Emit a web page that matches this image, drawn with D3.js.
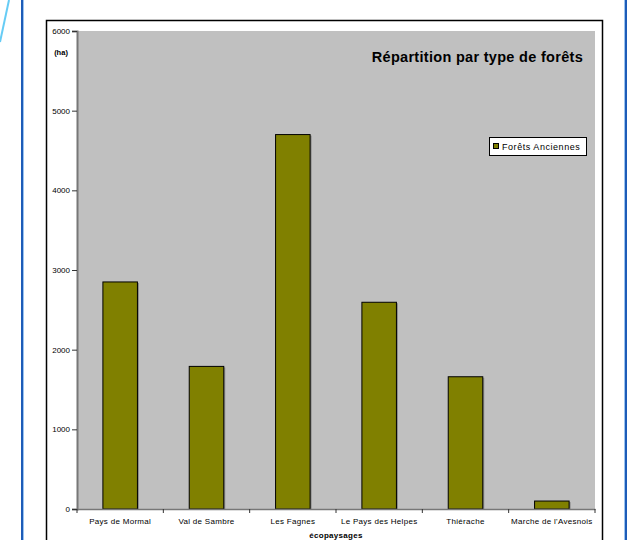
<!DOCTYPE html>
<html>
<head>
<meta charset="utf-8">
<script src="https://cdn.jsdelivr.net/npm/d3@7"></script>
<style>
html,body{margin:0;padding:0;background:#fff;}
svg{display:block;font-family:"Liberation Sans",Arial,sans-serif;}
</style>
</head>
<body>
<svg id="chart" width="636" height="540"></svg>
<script>
const categories = ["Pays de Mormal","Val de Sambre","Les Fagnes","Le Pays des Helpes","Thiérache","Marche de l'Avesnois"];
const values = [2850, 1790, 4700, 2595, 1660, 100];
const yTicks = [0,1000,2000,3000,4000,5000,6000];
const seriesName = "Forêts Anciennes";
const title = "Répartition par type de forêts";
const yUnit = "(ha)";
const xTitle = "écopaysages";

const svg = d3.select("#chart");
const W = 636, H = 540;
const plot = {left:77, right:595, top:31, bottom:509};
const FONT = "'Liberation Sans', Arial, sans-serif";

// decorative page lines
svg.append("line").attr("x1",9).attr("y1",0).attr("x2",0).attr("y2",42)
  .attr("stroke","#66ccf5").attr("stroke-width",2);
svg.append("line").attr("x1",22).attr("y1",0).attr("x2",22).attr("y2",H)
  .attr("stroke","#1d5cb8").attr("stroke-width",2);
svg.append("line").attr("x1",23.5).attr("y1",0).attr("x2",23.5).attr("y2",H)
  .attr("stroke","#9cc4f0").attr("stroke-width",1);
svg.append("line").attr("x1",626).attr("y1",0).attr("x2",626).attr("y2",H)
  .attr("stroke","#1d5cb8").attr("stroke-width",2);
svg.append("line").attr("x1",624.5).attr("y1",0).attr("x2",624.5).attr("y2",H)
  .attr("stroke","#9cc4f0").attr("stroke-width",1);

// chart frame
svg.append("rect").attr("x",46.5).attr("y",20.5).attr("width",556).attr("height",540)
  .attr("fill","#fff").attr("stroke","#000").attr("stroke-width",1.5);

const x = d3.scaleBand().domain(categories).range([plot.left, plot.right]).paddingInner(0.6).paddingOuter(0.3);
const xb = d3.scaleBand().domain(categories).range([plot.left, plot.right]);
const y = d3.scaleLinear().domain([0,6000]).range([plot.bottom, plot.top]);

// plot area
svg.append("rect").attr("x",plot.left).attr("y",plot.top)
  .attr("width",plot.right-plot.left).attr("height",plot.bottom-plot.top)
  .attr("fill","#c0c0c0");

// bar shadows
svg.append("g").selectAll("rect").data(values).join("rect")
  .attr("x",(d,i)=>x(categories[i])+1.5)
  .attr("y",d=>y(d)+1)
  .attr("width",x.bandwidth())
  .attr("height",d=>plot.bottom-y(d)-1)
  .attr("fill","#8a8a8a");
// bars
svg.append("g").selectAll("rect").data(values).join("rect")
  .attr("x",(d,i)=>x(categories[i]))
  .attr("y",d=>y(d))
  .attr("width",x.bandwidth())
  .attr("height",d=>plot.bottom-y(d))
  .attr("fill","#808000").attr("stroke","#000").attr("stroke-width",1);

// y axis
const yAxis = d3.axisLeft(y).tickValues(yTicks).tickSize(5).tickPadding(2).tickFormat(d3.format("d"));
const gy = svg.append("g").attr("transform",`translate(${plot.left},0)`).call(yAxis);
gy.select(".domain").attr("stroke","#777").attr("stroke-width",2);
gy.selectAll(".tick line").attr("stroke","#333");
gy.selectAll("text").attr("font-size","8px").attr("fill","#000").attr("font-family",FONT);

// x axis
const xAxis = d3.axisBottom(xb).tickSize(0).tickPadding(9);
const gx = svg.append("g").attr("transform",`translate(0,${plot.bottom})`).call(xAxis);
gx.select(".domain").attr("stroke","#777").attr("stroke-width",1.5);
gx.selectAll("text").attr("font-size","8px").attr("letter-spacing","0.3px").attr("fill","#000").attr("font-family",FONT);
// category separators ticks
svg.append("g").selectAll("line").data(categories.concat([null])).join("line")
  .attr("x1",(d,i)=>plot.left + i*xb.step()).attr("x2",(d,i)=>plot.left + i*xb.step())
  .attr("y1",plot.bottom).attr("y2",plot.bottom+4)
  .attr("stroke","#333").attr("stroke-width",1);

// unit label
svg.append("text").attr("x",61).attr("y",55).attr("text-anchor","middle")
  .attr("font-size","7.5px").attr("font-weight","bold").attr("fill","#000").text(yUnit);

// x title
svg.append("text").attr("x",(plot.left+plot.right)/2).attr("y",538).attr("text-anchor","middle")
  .attr("font-size","8px").attr("font-weight","bold").attr("letter-spacing","0.3px").text(xTitle);

// chart title
svg.append("text").attr("x",583).attr("y",62).attr("text-anchor","end")
  .attr("font-size","14.5px").attr("font-weight","bold").attr("letter-spacing","0.3px").text(title);

// legend
const lg = svg.append("g");
lg.append("rect").attr("x",489.5).attr("y",137.5).attr("width",97).attr("height",18)
  .attr("fill","#fff").attr("stroke","#000").attr("stroke-width",1);
lg.append("rect").attr("x",493.5).attr("y",143.5).attr("width",5).attr("height",5)
  .attr("fill","#808000").attr("stroke","#000").attr("stroke-width",1);
lg.append("text").attr("x",502).attr("y",149.5).attr("font-size","9px").attr("letter-spacing","0.55px").text(seriesName);
</script>
</body>
</html>
